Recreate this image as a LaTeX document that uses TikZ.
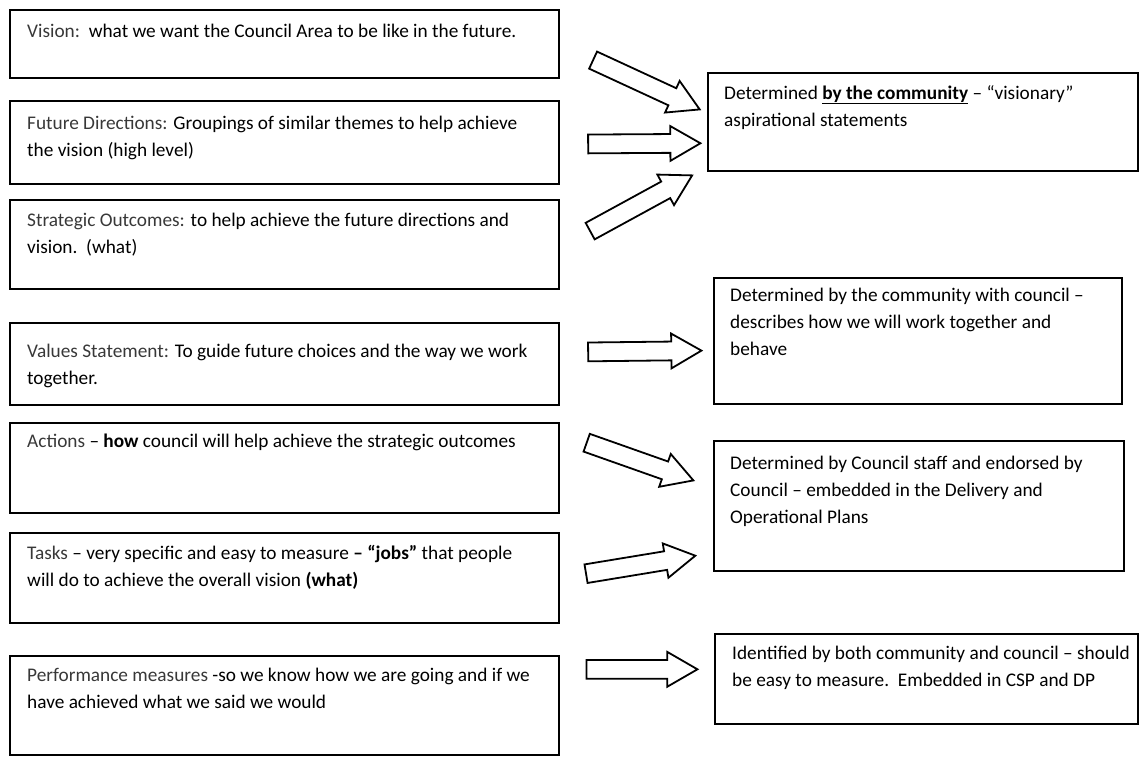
\documentclass[tikz,border=0pt]{standalone}
\usepackage{fontspec}
\setmainfont{Carlito}
\usetikzlibrary{shapes.arrows,calc}
\newcommand\lbl[1]{\textcolor{black!78}{#1}}
\newcommand\blockarr[2]{%
  \path let \p1=(#1), \p2=(#2), \n1={atan2(\y2-\y1,\x2-\x1)}, \n2={veclen(\x2-\x1,\y2-\y1)} in
    node[blk, minimum height=\n2, rotate=\n1] at ($(#1)!0.5!(#2)$) {};}
\tikzset{
  box/.style={draw=black, line width=1.8pt, rectangle, inner sep=0pt, anchor=north west},
  txt/.style={anchor=base west, inner sep=0pt, font=\fontsize{19.3}{27}\selectfont},
  blk/.style={single arrow, draw=black, line width=1.8pt, fill=white, inner sep=0pt,
    inner ysep=8.5pt, single arrow head extend=8pt, single arrow tip angle=60, minimum width=33pt}
}
\begin{document}
\begin{tikzpicture}[x=1pt,y=-1pt]
\useasboundingbox (0,0) rectangle (1139,756);
% left boxes
\node[box, minimum width=549pt, minimum height=68pt] (L1) at (9,9) {};
\node[box, minimum width=549pt, minimum height=83pt] (L2) at (9,100) {};
\node[box, minimum width=549pt, minimum height=89pt] (L3) at (9,199) {};
\node[box, minimum width=549pt, minimum height=82pt] (L4) at (9,322) {};
\node[box, minimum width=549pt, minimum height=90pt] (L5) at (9,422) {};
\node[box, minimum width=549pt, minimum height=90pt] (L6) at (9,532) {};
\node[box, minimum width=549pt, minimum height=99pt] (L7) at (9,655) {};
% right boxes
\node[box, minimum width=430pt, minimum height=98pt] (R1) at (707,72) {};
\node[box, minimum width=408pt, minimum height=126pt] (R2) at (713,277) {};
\node[box, minimum width=410pt, minimum height=130pt] (R3) at (713,440) {};
\node[box, minimum width=423pt, minimum height=90pt] (R4) at (714,633) {};
% texts
\node[txt] (t1) at ($(L1.north west)+(18,28)$) {\parbox[t]{560pt}{\raggedright \lbl{Vision:}\ \ what we want the Council Area to be like in the future.}};
\node[txt] (t2) at ($(L2.north west)+(18,29)$) {\parbox[t]{560pt}{\raggedright \lbl{Future Directions:} Groupings of similar themes to help achieve\\the vision (high level)}};
\node[txt] (t3) at ($(L3.north west)+(18,27)$) {\parbox[t]{560pt}{\raggedright \lbl{Strategic Outcomes:} to help achieve the future directions and\\vision.\ \ (what)}};
\node[txt] (t4) at ($(L4.north west)+(18,35)$) {\parbox[t]{560pt}{\raggedright \lbl{Values Statement:} To guide future choices and the way we work\\together.}};
\node[txt] (t5) at ($(L5.north west)+(18,25)$) {\parbox[t]{560pt}{\raggedright \lbl{Actions} – \textbf{how} council will help achieve the strategic outcomes}};
\node[txt] (t6) at ($(L6.north west)+(18,27)$) {\parbox[t]{560pt}{\raggedright \lbl{Tasks} – very specific and easy to measure \textbf{– “jobs”} that people\\will do to achieve the overall vision \textbf{(what)}}};
\node[txt] (t7) at ($(L7.north west)+(18,26)$) {\parbox[t]{560pt}{\raggedright \lbl{Performance measures} -so we know how we are going and if we\\have achieved what we said we would}};
\node[txt] (u1) at ($(R1.north west)+(17,27)$) {\parbox[t]{440pt}{\raggedright Determined \underline{\textbf{by the community}} – “visionary”\\aspirational statements}};
\node[txt] (u2) at ($(R2.north west)+(17,24)$) {\parbox[t]{440pt}{\raggedright Determined by the community with council –\\describes how we will work together and\\behave}};
\node[txt] (u3) at ($(R3.north west)+(17,29)$) {\parbox[t]{440pt}{\raggedright Determined by Council staff and endorsed by\\Council – embedded in the Delivery and\\Operational Plans}};
\node[txt] (u4) at ($(R4.north west)+(18,26)$) {\parbox[t]{440pt}{\raggedright Identified by both community and council – should\\be easy to measure.\ \ Embedded in CSP and DP}};
% block arrows
\coordinate (a1s) at (585.7,56.7); \coordinate (a1e) at (692.3,106);
\coordinate (a2s) at (580,144);    \coordinate (a2e) at (692.3,143.3);
\coordinate (a3s) at (583,235);    \coordinate (a3e) at (685,179.3);
\coordinate (a4s) at (580,352);    \coordinate (a4e) at (693.3,350.7);
\coordinate (a5s) at (579,440);    \coordinate (a5e) at (685.7,477.7);
\coordinate (a6s) at (578,575);    \coordinate (a6e) at (687.3,557);
\coordinate (a7s) at (578.3,669.3);\coordinate (a7e) at (689.3,669.3);
\blockarr{a1s}{a1e}
\blockarr{a2s}{a2e}
\blockarr{a3s}{a3e}
\blockarr{a4s}{a4e}
\blockarr{a5s}{a5e}
\blockarr{a6s}{a6e}
\blockarr{a7s}{a7e}
\end{tikzpicture}
\end{document}
